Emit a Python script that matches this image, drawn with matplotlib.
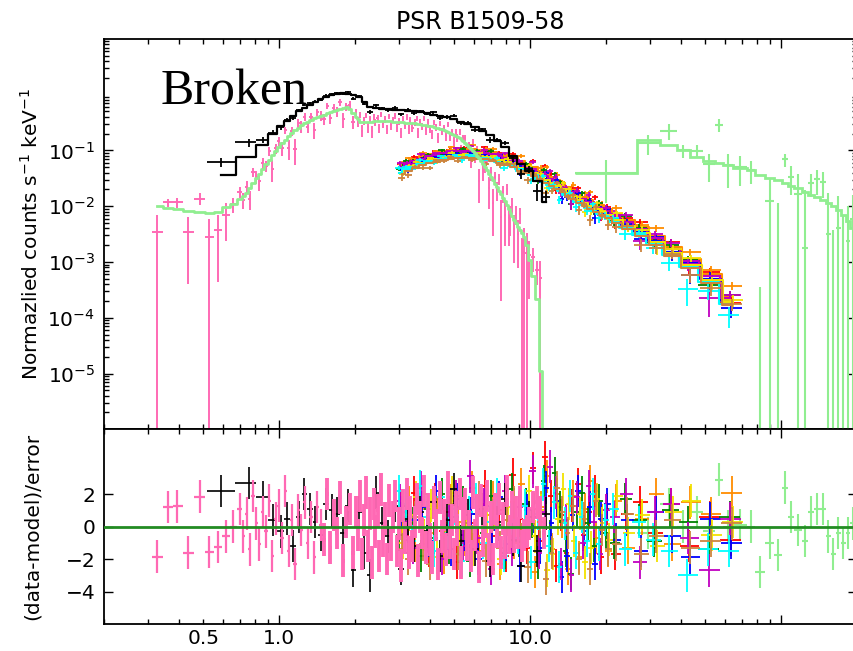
import numpy as np
import matplotlib
matplotlib.use("Agg")
import matplotlib.pyplot as plt
from matplotlib.ticker import FixedLocator, LogLocator, FuncFormatter, NullFormatter, NullLocator

# energies in keV, models in counts/s/keV, residuals in sigma,
# errors given as a fraction of the model in each bin

# --- soft instrument (black) ---
blk_e = [0.587, 0.757, 0.864, 0.944, 1.02, 1.08, 1.14, 1.20, 1.26, 1.325,
         1.395, 1.465, 1.54, 1.62, 1.705, 1.795, 1.885, 1.98, 2.08, 2.185,
         2.30, 2.43, 2.575, 2.73, 2.895, 3.07, 3.255, 3.45, 3.66, 3.88,
         4.12, 4.38, 4.66, 4.96, 5.29, 5.64, 6.03, 6.45, 6.91, 7.41,
         7.95, 8.54, 9.2, 9.92, 10.7, 11.55]
blk_model = [0.037, 0.075, 0.123, 0.20, 0.27, 0.34, 0.42, 0.50, 0.58, 0.66,
             0.74, 0.82, 0.90, 0.97, 1.03, 1.06, 1.04, 0.98, 0.90, 0.75,
             0.60, 0.57, 0.56, 0.55, 0.54, 0.53, 0.52, 0.50, 0.48, 0.46,
             0.44, 0.42, 0.39, 0.36, 0.33, 0.30, 0.26, 0.22, 0.19, 0.15,
             0.115, 0.08, 0.058, 0.042, 0.028, 0.012]
blk_resid = [2.2, 2.7, 1.8, 0.4, -0.3, 0.5, -1.2, 0.6, 2.0, 1.1,
             0.3, -0.5, 1.4, 1.0, 0.8, -0.4, 1.3, -2.7, 0.9, -1.6,
             -3.0, 2.1, 0.2, -0.6, 1.3, -2.6, 0.5, -1.2, 0.9, -0.3,
             1.5, -1.8, 0.4, 2.3, -0.9, 0.7, -1.4, 1.1, -2.1, 0.3,
             1.7, -0.8, -2.4, 0.6, -1.5, 0.8]
blk_frac = [0.30, 0.32, 0.15, 0.12, 0.10, 0.09, 0.08, 0.07, 0.06, 0.06,
            0.05, 0.05, 0.05, 0.05, 0.05, 0.05, 0.05, 0.05, 0.05, 0.05,
            0.06, 0.06, 0.06, 0.06, 0.06, 0.06, 0.06, 0.06, 0.06, 0.06,
            0.06, 0.06, 0.07, 0.07, 0.07, 0.07, 0.08, 0.08, 0.09, 0.10,
            0.11, 0.12, 0.14, 0.17, 0.22, 0.30]

# --- soft instrument (pink data, model drawn in light green) ---
pink_e = [
    # 0.3-0.7 keV
    0.327, 0.362, 0.393, 0.434, 0.485, 0.527, 0.571, 0.615, 0.656,
    # 0.7-2 keV
    0.700, 0.721, 0.743, 0.765, 0.788, 0.812, 0.836, 0.861, 0.887, 0.914,
    0.941, 0.969, 0.998, 1.028, 1.059, 1.091, 1.124, 1.157, 1.192, 1.228,
    1.265, 1.303, 1.342, 1.382, 1.423, 1.466, 1.510, 1.555, 1.602, 1.650,
    1.699, 1.750, 1.803, 1.857, 1.913, 1.970,
    # 2-9.5 keV
    2.03, 2.07, 2.10, 2.14, 2.18, 2.22, 2.26, 2.30, 2.34, 2.38,
    2.42, 2.47, 2.51, 2.56, 2.60, 2.65, 2.70, 2.75, 2.80, 2.85,
    2.90, 2.95, 3.00, 3.06, 3.11, 3.17, 3.23, 3.28, 3.34, 3.40,
    3.47, 3.53, 3.59, 3.66, 3.72, 3.79, 3.86, 3.93, 4.00, 4.07,
    4.15, 4.22, 4.30, 4.38, 4.46, 4.54, 4.62, 4.70, 4.79, 4.87,
    4.96, 5.05, 5.14, 5.24, 5.33, 5.43, 5.53, 5.63, 5.73, 5.83,
    5.94, 6.05, 6.16, 6.27, 6.38, 6.50, 6.61, 6.73, 6.86, 6.98,
    7.11, 7.24, 7.37, 7.50, 7.64, 7.78, 7.92, 8.06, 8.21, 8.36,
    8.51, 8.66, 8.82, 8.98, 9.14, 9.31, 9.48,
    # cut-off
    9.70, 9.95, 10.3, 10.7, 11.0, 11.4]
pink_model = [
    0.0099, 0.0093, 0.0088, 0.0082, 0.0078, 0.0077, 0.0079, 0.0095, 0.0110,
    0.0135, 0.0155, 0.0175, 0.021, 0.026, 0.032, 0.038, 0.046, 0.057, 0.068,
    0.082, 0.098, 0.115, 0.135, 0.155, 0.178, 0.205, 0.228, 0.258, 0.285,
    0.305, 0.325, 0.355, 0.375, 0.395, 0.415, 0.44, 0.46, 0.485, 0.51,
    0.54, 0.56, 0.58, 0.59, 0.55, 0.47,
    0.40, 0.36, 0.33, 0.32, 0.32, 0.32, 0.322, 0.325, 0.328, 0.332,
    0.336, 0.34, 0.34, 0.34, 0.339, 0.338, 0.336, 0.334, 0.332, 0.33,
    0.328, 0.325, 0.322, 0.32, 0.318, 0.316, 0.314, 0.312, 0.31, 0.308,
    0.305, 0.302, 0.298, 0.295, 0.291, 0.287, 0.283, 0.279, 0.274, 0.269,
    0.264, 0.258, 0.252, 0.246, 0.239, 0.232, 0.225, 0.217, 0.209, 0.200,
    0.192, 0.183, 0.174, 0.165, 0.156, 0.146, 0.137, 0.127, 0.117, 0.108,
    0.099, 0.090, 0.081, 0.072, 0.064, 0.057, 0.050, 0.044, 0.038, 0.033,
    0.029, 0.025, 0.022, 0.019, 0.0165, 0.0142, 0.0122, 0.0105, 0.0090, 0.0077,
    0.0066, 0.0057, 0.0049, 0.0042, 0.0037, 0.0033, 0.0028,
    0.0020, 0.0011, 0.00055, 0.00022, 0.000011, 1e-9]
pink_resid = [
    -1.85, 1.2, 1.25, -1.6, 1.85, -1.55, -1.25, -0.6, 0.0,
    1.1, -0.6, 0.8, -1.4, 1.9, 0.2, -1.1, 0.9, -0.3, 1.6,
    -1.8, 0.5, 1.3, -0.7, 2.2, -1.5, 0.4, -2.3, 1.0, -0.2,
    1.5, -1.0, 0.6, -1.9, 1.2, 0.1, -0.8, 2.0, -1.3, 0.7,
    -0.4, 1.8, -2.1, 0.3, 1.1, -1.6,
    0.9, -0.5, 1.9, -1.7, 0.4, 2.1, -1.2, 0.8, -2.2, 1.4,
    -0.3, 1.0, -1.8, 2.3, -0.9, 0.5, -2.0, 1.6, -1.1, 0.6,
    1.9, -1.5, 0.2, -2.4, 1.3, -0.7, 2.0, -1.6, 0.9, -1.2,
    0.3, 1.7, -2.1, 0.6, -0.4, 2.2, -1.3, 1.1, -0.8, -1.9,
    1.5, 0.1, -2.3, 1.8, -0.6, 0.7, -1.4, 2.4, -1.0, 0.4,
    -1.7, 1.2, -0.2, 2.0, -2.2, 0.8, 1.4, -1.1, 0.0, -1.8,
    2.1, -0.5, 1.0, -2.5, 1.6, -0.9, 0.3, 1.9, -1.4, 0.6,
    -2.0, 1.1, -0.3, 1.7, -1.6, 0.5, -1.0, 2.2, -0.7, -0.3,
    1.2, -0.6, 0.9, -0.4, 1.5, -1.2, -0.5,
    -0.3, 0.2, 1.2, 1.5, 0.9, -0.4]
pink_frac = (
    [0.355, 0.215, 0.265, 0.366, 0.41, 0.41, 0.42, 0.47, 0.30]
    + [0.30, 0.26, 0.34, 0.25, 0.30, 0.28, 0.24, 0.30, 0.22, 0.26,
       0.24, 0.22, 0.22]
    + [0.24, 0.22, 0.25, 0.21, 0.23, 0.20, 0.22, 0.21, 0.19, 0.21,
       0.20, 0.18, 0.19, 0.20, 0.18, 0.17, 0.19, 0.18, 0.17, 0.18,
       0.17, 0.18, 0.19]
    + [0.19, 0.18, 0.17, 0.17, 0.16, 0.16, 0.16, 0.15, 0.15, 0.15, 0.15]
    + [0.14] * 41
    + [0.15, 0.15, 0.16, 0.16, 0.17, 0.18, 0.19, 0.20, 0.21,
       0.22, 0.23, 0.24, 0.25, 0.26, 0.28, 0.30, 0.32, 0.34,
       0.30, 0.32, 0.34, 0.36, 0.38, 0.40, 0.42,
       0.44, 0.46, 0.48, 0.50, 0.52, 0.55, 0.58, 0.62, 0.85, 0.90]
    + [0.95, 1.0, 1.0, 1.5, 50.0, 1.0])

# --- hard X-ray observations (one colour per observation) ---
col_e = [3.05, 3.25, 3.45, 3.70, 3.95, 4.20, 4.50,
         4.80, 5.10, 5.45, 5.80, 6.20, 6.60, 7.05,
         7.50, 8.00, 8.55, 9.10, 9.70, 10.3, 10.9,
         11.5, 12.1, 12.7, 13.3, 14.0, 14.7, 15.5,
         16.3, 17.2, 18.1, 19.1, 20.2, 21.8, 24.2,
         27.5, 31.5, 36.5, 43.0, 52.0, 63.0]
col_model = [0.045, 0.052, 0.058, 0.064, 0.070, 0.075, 0.080,
             0.084, 0.087, 0.088, 0.087, 0.085, 0.082, 0.077,
             0.072, 0.066, 0.059, 0.052, 0.046, 0.041, 0.0356,
             0.0312, 0.0276, 0.0243, 0.0213, 0.0184, 0.0159, 0.0137,
             0.0121, 0.0106, 0.0094, 0.0083, 0.0072, 0.0060, 0.0047,
             0.0035, 0.0024, 0.00154, 0.00094, 0.0005, 0.0002]
col_frac = [0.10, 0.09, 0.08, 0.08, 0.07, 0.07, 0.07,
            0.07, 0.07, 0.07, 0.07, 0.07, 0.08, 0.08,
            0.08, 0.09, 0.09, 0.10, 0.10, 0.10, 0.11,
            0.11, 0.11, 0.12, 0.12, 0.12, 0.13, 0.13,
            0.14, 0.14, 0.15, 0.15, 0.16, 0.16, 0.17,
            0.18, 0.19, 0.20, 0.20, 0.22, 0.25]
col_colors = ["#ff0000", "#ff8c00", "#008000", "#0000ff",
              "#c000c0", "#f2e200", "#00ffff", "#cd853f"]
col_norm = [1.15, 1.22, 1.10, 1.00, 1.12, 0.95, 0.88, 0.84]
# each observation has its own channel grouping
col_shift = [1.000, 1.012, 0.990, 1.005, 0.995, 1.018, 0.984, 1.009]

res_red = [1.2, -0.8, 2.1, 0.4, -1.5, 1.7, -0.3, 0.9, -2.2, 1.4,
           0.2, -1.1, 2.5, -0.6, 1.0, -1.8, 3.2, 0.5, -1.3,
           3.6, -0.9, 4.3, 1.9, -2.4, 0.7, -1.6, 1.3, 2.6, -0.5, 0.9, 2.2, -1.9, 1.1,
           -1.7, 0.8, 1.5, -0.4, 1.4, -1.2, 0.6, -0.8]
res_orange = [0.6, 1.5, -1.2, 2.0, -0.4, 0.9, -1.9, 1.6, 0.3, -0.8,
              2.4, -1.5, 0.7, 1.8, -2.3, 0.4, -1.0, 2.6, -0.2,
              -2.8, 1.2, 3.1, -1.4, 2.0, 0.3, -2.6, 1.9, -1.9, 1.1, 2.8, -0.7, 0.4, -1.5,
              1.6, -1.3, 0.5, 2.0, -1.1, 1.5, 0.8, 2.1]
res_green = [-0.5, 1.3, 0.2, -1.8, 1.1, -0.7, 2.0, -1.3, 0.6, 1.5,
             -2.1, 0.8, -0.4, 1.9, 0.1, -1.6, 2.3, -0.9, 1.4,
             0.3, -2.2, 2.8, -0.6, 3.3, 1.2, -1.5, -2.9, 0.9, 2.1, 0.2, -1.2, 1.6, -0.4,
             -1.0, 1.7, 0.4, -0.9, 1.0, 0.3, -1.4, 0.6]
res_blue = [0.9, -1.6, 0.4, 1.2, -0.9, 2.2, 0.1, -1.4, 1.7, -0.5,
            0.8, -2.0, 1.3, -0.2, 1.8, -1.1, 0.5, -2.4, 1.0,
            0.6, -1.3, 2.4, 0.2, 1.6, -3.1, -1.8, 0.7, 2.2, -0.3, 1.2, -2.3, 0.5, 1.4,
            -0.8, 0.4, -1.5, 0.9, -0.6, -1.9, 0.5, -1.0]
res_magenta = [1.6, 0.3, -1.3, 2.4, -0.6, 1.0, -2.0, 0.5, 1.9, -1.2,
               3.1, -0.7, 1.4, -2.6, 0.8, 2.2, -1.4, 1.2, -0.3,
               3.4, -1.6, 0.9, 3.7, 2.1, -2.3, 0.4, -3.0, 1.8, -1.0, 2.5, 0.3, -1.7, 1.0,
               0.6, 2.0, -2.2, 0.9, 1.4, -0.7, -2.7, 0.5]
res_yellow = [-1.0, 0.7, 1.8, -0.5, 1.3, -1.9, 0.2, 2.1, -0.8, 0.4,
              -1.4, 1.6, -0.1, 0.9, -2.0, 1.2, 0.3, -1.1, 2.2,
              -0.6, 1.0, -2.7, -1.7, 0.5, 2.3, 1.4, -0.9, 0.8, -2.2, -1.3, 1.7, 0.2, -0.8,
              1.9, -0.4, 0.7, -1.2, 0.9, 1.6, -0.5, 0.3]
res_cyan = [2.2, 1.4, -0.9, 2.5, 0.6, -1.5, 1.8, -0.4, 1.1, -2.1,
            0.9, 1.7, -1.0, 0.3, 2.0, -1.8, 0.5, -0.7, 1.3,
            -2.2, 0.8, 2.6, -1.2, 1.5, -2.5, 0.2, 1.9, -1.6, 0.6, -0.9, 2.0, -1.1, 0.4,
            1.1, -1.4, 0.3, -0.8, -1.5, -3.0, -1.4, -1.5]
res_brown = [-1.4, -2.0, 0.6, -1.1, -2.3, 0.9, -0.5, 1.4, -1.7, 0.2,
             -0.9, 1.8, -2.1, 0.7, -1.3, 0.4, 1.5, -0.8, -2.5,
             1.1, 0.3, -3.2, -1.6, 2.4, 0.9, -0.4, 1.3, -2.0, 0.5, -2.6, 1.6, -0.2, -1.4,
             -1.1, 0.8, -1.7, -0.6, 0.4, -1.3, -0.9, 0.2]
col_resid = [res_red, res_orange, res_green, res_blue,
             res_magenta, res_yellow, res_cyan, res_brown]

# --- gamma-ray instrument (light green) ---
lg_edges = [15.1, 26.6, 33.0, 38.5, 43.3, 49.0, 54.5, 59.0, 64.5, 73.0,
            79.0, 86.5, 94.0, 100.5, 107.0, 112.5, 121.0, 128.5, 135.5, 143.5,
            151.0, 158.0, 165.5, 173.5, 181.0, 188.5, 198.0]
lg_model = [0.040, 0.157, 0.123, 0.100, 0.075, 0.066, 0.060, 0.054, 0.048, 0.045,
            0.036, 0.032, 0.029, 0.026, 0.023, 0.021, 0.018, 0.016, 0.0145, 0.013,
            0.0115, 0.0100, 0.0085, 0.0070, 0.0055, 0.0040]
lg_resid = [0.0, -0.4, 1.4, 0.0, 0.9, -0.3, 2.9, 0.0, 0.1, 0.0,
            -2.8, -1.0, -1.75, 2.4, 0.6, -0.2, -0.9, 0.9, 1.1, 1.1,
            -0.6, -1.7, -0.4, -1.0, -0.4, 0.2]
lg_frac = [0.72, 0.33, 0.60, 0.27, 0.36, 0.45, 1.33, 0.60, 0.58, 0.45,
           0.55, 0.62, 0.80, 0.70, 0.80, 1.00, 1.00, 0.70, 1.00, 1.00,
           1.20, 0.90, 1.30, 1.50, 1.40, 2.50]

PINK = "#ff69b4"
LGREEN = "#90ee90"


def half_widths(e):
    # bin boundaries halfway (in log) between neighbouring channels
    e = np.asarray(e, float)
    mid = np.sqrt(e[1:] * e[:-1])
    lo = np.concatenate([[e[0] ** 2 / mid[0]], mid])
    hi = np.concatenate([mid, [e[-1] ** 2 / mid[-1]]])
    return np.vstack([e - lo, hi - e])


def draw_spectrum(ax, e, xerr, model, resid, frac, color, lw=1.3, z=2):
    model = np.asarray(model, float)
    err = np.asarray(frac, float) * model
    data = model + np.asarray(resid, float) * err
    ax.errorbar(e, data, yerr=err, xerr=xerr, fmt="none", ecolor=color,
                elinewidth=lw, capsize=0, zorder=z)


def draw_resid(ax, e, xerr, resid, color, lw=1.3, z=2):
    ax.errorbar(e, resid, yerr=1.0, xerr=xerr, fmt="none", ecolor=color,
                elinewidth=lw, capsize=0, zorder=z)


plt.rcParams["font.family"] = "DejaVu Sans"
fig = plt.figure(figsize=(8.54, 6.51), dpi=100)
ax1 = fig.add_axes([0.1213, 0.3406, 0.8817, 0.5996])
ax2 = fig.add_axes([0.1213, 0.0415, 0.8817, 0.2991])
ax1.set_yscale("log", nonpositive="clip")

# pink data: above ~1.5 keV the channels are packed tightly
pe = np.asarray(pink_e)
pr = np.asarray(pink_resid)
pxe = half_widths(pe)
draw_spectrum(ax1, pe, pxe, pink_model, pr, pink_frac, PINK, lw=1.4, z=2)
dense = pe >= 1.5
draw_resid(ax2, pe[~dense], pxe[:, ~dense], pr[~dense], PINK, lw=1.6, z=4)
draw_resid(ax2, pe[dense], pxe[:, dense], pr[dense], PINK, lw=2.8, z=4)

# hard X-ray observations
for c, k, s, r in zip(col_colors, col_norm, col_shift, col_resid):
    ce = np.asarray(col_e) * s
    cxe = half_widths(ce)
    m = np.asarray(col_model) * k
    draw_spectrum(ax1, ce, cxe, m, r, col_frac, c, lw=1.3, z=3)
    draw_resid(ax2, ce, cxe, r, c, lw=1.3, z=3)
    ax1.plot(ce, m, drawstyle="steps-mid", color=c, lw=1.5, zorder=3)

# pink model
ax1.plot(pe, pink_model, drawstyle="steps-mid", color=LGREEN, lw=2, zorder=4)

# black data and model
be = np.asarray(blk_e)
bxe = half_widths(be)
draw_spectrum(ax1, be, bxe, blk_model, blk_resid, blk_frac, "k", lw=1.3, z=5)
draw_resid(ax2, be, bxe, blk_resid, "k", lw=1.2, z=3.5)
ax1.plot(be, blk_model, drawstyle="steps-mid", color="k", lw=1.6, zorder=5)

# gamma-ray data and model
lge = np.asarray(lg_edges)
lgc = np.sqrt(lge[1:] * lge[:-1])
lgx = np.vstack([lgc - lge[:-1], lge[1:] - lgc])
draw_spectrum(ax1, lgc, lgx, lg_model, lg_resid, lg_frac, LGREEN, lw=1.5, z=6)
draw_resid(ax2, lgc, lgx, lg_resid, LGREEN, lw=1.5, z=2)
ax1.stairs(lg_model, lge, baseline=None, color=LGREEN, lw=2, zorder=6)

ax2.axhline(0, color="#228b22", lw=2, zorder=7)

# axes cosmetics
for ax in (ax1, ax2):
    ax.set_xscale("log")
    ax.set_xlim(0.2, 200)
    ax.xaxis.set_major_locator(FixedLocator([1, 10, 100]))
    ax.xaxis.set_minor_locator(LogLocator(base=10, subs=np.arange(2, 10), numticks=30))
    ax.tick_params(which="both", direction="in", top=True, right=True,
                   labelsize=14.5, width=1.0)
    ax.tick_params(which="major", length=6.5)
    ax.tick_params(which="minor", length=3.5)
    ax.tick_params(axis="y", pad=6)
    for s in ax.spines.values():
        s.set_linewidth(1.3)

ax1.xaxis.set_major_formatter(NullFormatter())
ax1.xaxis.set_minor_formatter(NullFormatter())
ax2.xaxis.set_major_formatter(FuncFormatter(lambda v, p: {1: "1.0", 10: "10.0"}.get(int(round(v)), "")))
ax2.xaxis.set_minor_formatter(FuncFormatter(lambda v, p: "0.5" if abs(v - 0.5) < 1e-6 else ""))

ax1.set_ylim(1e-6, 10)
ax1.yaxis.set_major_locator(FixedLocator([1e-5, 1e-4, 1e-3, 1e-2, 1e-1]))
ax1.yaxis.set_minor_locator(LogLocator(base=10, subs=np.arange(2, 10), numticks=30))

ax2.set_ylim(-6, 6)
ax2.yaxis.set_major_locator(FixedLocator([-4, -2, 0, 2]))
ax2.yaxis.set_minor_locator(NullLocator())

ax1.set_title("PSR B1509-58", fontsize=17, pad=7)
ax1.set_ylabel("Normazlied counts s$^{-1}$ keV$^{-1}$", fontsize=14.5)
ax1.yaxis.set_label_coords(-0.082, 0.5)
ax2.set_ylabel("(data-model)/error", fontsize=14.5)
ax2.yaxis.set_label_coords(-0.082, 0.5)

ax1.text(0.075, 0.831, "Broken", transform=ax1.transAxes, fontsize=36,
         family="Liberation Serif", va="baseline", ha="left", zorder=10)

fig.savefig("out.png", dpi=100)
